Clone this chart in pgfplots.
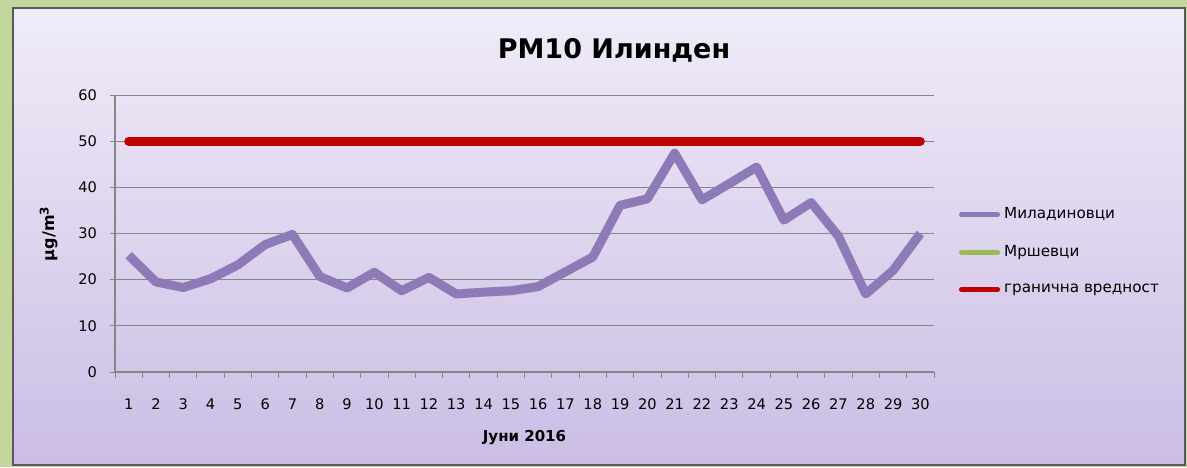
\documentclass[border=0pt]{standalone}
\usepackage{pgfplots}
\pgfplotsset{compat=1.18}
\usepackage{fontspec}
\setmainfont{DejaVu Sans}
\definecolor{bggreen}{HTML}{C3D69B}
\definecolor{topc}{HTML}{F0ECF8}
\definecolor{botc}{HTML}{CBBDE5}
\definecolor{purp}{HTML}{8F7AB8}
\definecolor{grn}{HTML}{9BBB59}
\definecolor{redl}{HTML}{C00000}
\definecolor{gridc}{HTML}{868686}
\begin{document}
\begin{tikzpicture}[x=0.5pt,y=0.5pt]
\fill[bggreen] (0,0) rectangle (1187,467);
\shade[top color=topc,bottom color=botc] (13,2) rectangle (1185,459);
\draw[gray!70!black, line width=0.6pt] (13,2) rectangle (1185,459);
\useasboundingbox (0,0) rectangle (1187,467);
\node[font=\fontsize{13.5}{15}\selectfont\bfseries] at (614,417) {PM10 Илинден};
\begin{axis}[
  at={(57.5pt,47.5pt)}, anchor=south west,
  scale only axis, width=409.5pt, height=138.5pt,
  xmin=0.5, xmax=30.5, ymin=0, ymax=60,
  ytick={0,10,...,60},
  xtick={1,...,30},
  minor xtick={0.5,1.5,...,30.5},
  major x tick style={draw=none},
  minor tick length=3pt,
  major tick length=2.5pt,
  tick align=outside,
  tick pos=left,
  axis lines*=left,
  axis line style={gridc, line width=0.6pt},
  tick style={gridc, line width=0.5pt},
  ymajorgrids,
  grid style={gridc, line width=0.5pt},
  /pgf/number format/assume math mode=true,
  ticklabel style={font=\fontsize{7.3}{8}\selectfont},
  xticklabel style={yshift=-7.5pt},
  yticklabel style={xshift=-3pt},
  ylabel={\textbf{μg/m\textsuperscript{3}}},
  ylabel style={at={(axis description cs:-0.081,0.5)}, anchor=center, font=\fontsize{8}{9}\selectfont},
  xlabel={\textbf{Јуни 2016}},
  xlabel style={at={(axis description cs:0.5,-0.235)}, anchor=center, font=\fontsize{7.5}{8}\selectfont},
  legend style={at={(1.03,0.61)}, anchor=north west, draw=none, fill=none,
    font=\fontsize{7.6}{9}\selectfont, row sep=8pt, inner sep=0pt},
  legend cell align=left,
  legend image code/.code={\draw[#1, line width=2.6pt, line cap=round] (0pt,0pt) -- (18pt,0pt);},
]
\addplot[purp, line width=4.5pt, line join=round] coordinates {
(1,25.3) (2,19.5) (3,18.3) (4,20.2) (5,23.2) (6,27.6) (7,29.8) (8,20.7) (9,18.2) (10,21.6)
(11,17.6) (12,20.5) (13,16.9) (14,17.3) (15,17.6) (16,18.5) (17,21.7) (18,24.9) (19,36.1) (20,37.5)
(21,47.4) (22,37.3) (23,40.8) (24,44.4) (25,32.9) (26,36.7) (27,29.4) (28,16.9) (29,22.0) (30,30.0)};
\addlegendentry{Миладиновци}
\addlegendimage{grn}
\addlegendentry{Мршевци}
\addplot[redl, line width=4.5pt, line cap=round] coordinates {(1,50) (30,50)};
\addlegendentry{гранична вредност}
\end{axis}
\end{tikzpicture}
\end{document}
